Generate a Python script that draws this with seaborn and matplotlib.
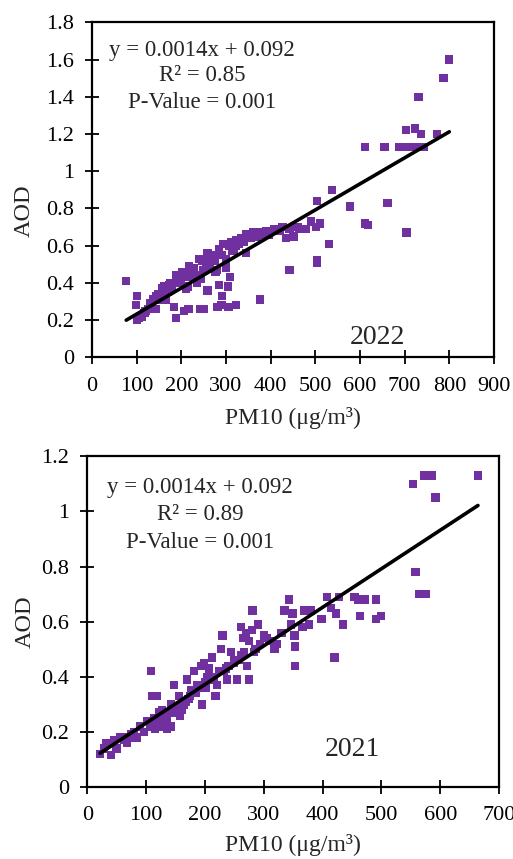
import matplotlib
matplotlib.use("Agg")
import matplotlib.pyplot as plt
import seaborn as sns
import pandas as pd
import numpy as np
from matplotlib.ticker import FuncFormatter

# ---------------- data 2022 ----------------
pm10_2022 = [77, 101, 99, 101, 189, 184, 206, 216, 242, 251, 259, 285, 304, 292, 281, 290, 306, 322,
             309, 376, 442, 504, 504, 531, 577, 504, 538, 662, 612, 618, 704, 612, 655, 688, 700, 712,
             726, 742, 703, 723, 736, 773, 731, 787, 800,
             345, 360, 382, 408, 427, 442, 435, 451, 465, 480, 491, 502, 510, 345, 322, 308, 293, 270,
             259, 240, 218, 203, 188, 173, 158, 143, 131, 120, 113, 143, 165, 210, 240, 277, 300, 263,
             300, 322, 105, 110, 118, 125, 135, 150, 160, 170, 180, 195, 200, 215, 225, 230, 250, 255,
             265, 275, 290, 315, 330, 355, 370, 395, 420, 460, 215, 235, 245, 280, 300,
             335, 340, 352, 365, 375, 390, 312, 318, 285, 268, 248, 228, 208, 190, 176, 162, 148, 137]
aod_2022 = [0.41, 0.33, 0.28, 0.20, 0.21, 0.27, 0.25, 0.26, 0.26, 0.26, 0.36, 0.39, 0.38, 0.33, 0.27, 0.28, 0.27, 0.28,
            0.43, 0.31, 0.47, 0.52, 0.51, 0.61, 0.81, 0.84, 0.90, 0.83, 0.72, 0.71, 0.67, 1.13, 1.13, 1.13, 1.13, 1.13,
            1.13, 1.13, 1.22, 1.23, 1.20, 1.20, 1.40, 1.50, 1.60,
            0.66, 0.67, 0.67, 0.69, 0.70, 0.69, 0.64, 0.65, 0.69, 0.69, 0.73, 0.70, 0.72, 0.56, 0.63, 0.60, 0.61, 0.55,
            0.56, 0.53, 0.49, 0.46, 0.44, 0.39, 0.37, 0.33, 0.29, 0.25, 0.22, 0.26, 0.31, 0.37, 0.44, 0.46, 0.48, 0.49,
            0.53, 0.60, 0.21, 0.22, 0.24, 0.26, 0.28, 0.31, 0.33, 0.35, 0.37, 0.40, 0.41, 0.43, 0.45, 0.44, 0.47, 0.48,
            0.50, 0.52, 0.55, 0.57, 0.61, 0.64, 0.65, 0.66, 0.68, 0.70, 0.38, 0.40, 0.42, 0.47, 0.50,
            0.64, 0.62, 0.66, 0.67, 0.66, 0.68, 0.62, 0.58, 0.58, 0.54, 0.52, 0.48, 0.45, 0.42, 0.40, 0.38, 0.34, 0.31]

# ---------------- data 2021 ----------------
pm10_2021 = [664, 573, 585, 554, 592, 558, 564, 575, 491, 471, 460, 454, 499, 491, 463, 435, 420, 408, 428,
             414, 423, 398, 380, 369, 377, 366, 343, 335, 349, 346, 352, 353, 353, 281, 261, 270, 280, 290,
             300, 265, 275, 318, 323, 230, 283, 275, 255, 238, 108,
             22, 33, 40, 50, 45, 62, 70, 79, 85, 90, 96, 102, 107, 110, 119, 113, 122, 124, 133, 142, 147, 147,
             156, 158, 164, 170, 176, 181, 187, 195, 198, 204, 212, 218, 221, 227, 232, 244, 249, 266, 272,
             193, 201, 184, 207, 142, 127, 119, 68, 56, 28, 75, 130, 152, 168, 190, 210, 236, 258, 286, 310, 330,
             115, 125, 135, 145, 155, 165, 175, 185, 200, 215, 225, 240, 250, 262, 294, 305, 160, 172, 136]
aod_2021 = [1.13, 1.13, 1.13, 1.10, 1.05, 0.78, 0.70, 0.70, 0.68, 0.68, 0.68, 0.69, 0.62, 0.61, 0.62, 0.59, 0.47, 0.69, 0.69,
            0.65, 0.63, 0.61, 0.64, 0.64, 0.59, 0.58, 0.68, 0.64, 0.63, 0.59, 0.55, 0.51, 0.44, 0.64, 0.58, 0.56, 0.57, 0.59,
            0.55, 0.54, 0.53, 0.50, 0.52, 0.55, 0.49, 0.39, 0.39, 0.39, 0.42,
            0.12, 0.16, 0.115, 0.14, 0.17, 0.17, 0.18, 0.20, 0.18, 0.22, 0.20, 0.24, 0.22, 0.33, 0.33, 0.25, 0.27, 0.22, 0.24, 0.22, 0.28, 0.37,
            0.33, 0.26, 0.30, 0.39, 0.35, 0.42, 0.37, 0.30, 0.45, 0.40, 0.47, 0.33, 0.37, 0.50, 0.42, 0.49, 0.45, 0.49, 0.44,
            0.44, 0.36, 0.34, 0.43, 0.30, 0.28, 0.24, 0.16, 0.18, 0.14, 0.19, 0.26, 0.29, 0.31, 0.36, 0.39, 0.43, 0.46, 0.50, 0.53, 0.56,
            0.21, 0.23, 0.25, 0.27, 0.29, 0.31, 0.33, 0.35, 0.38, 0.40, 0.42, 0.44, 0.46, 0.48, 0.52, 0.54, 0.28, 0.32, 0.21]

slope, intercept = 0.0014, 0.092
eq_text = "y = 0.0014x + 0.092"
r2_2022, r2_2021 = "R² = 0.85", "R² = 0.89"
p_text = "P-Value = 0.001"

sns.set_style("ticks")
plt.rcParams['font.family'] = ['Liberation Serif', 'DejaVu Serif']

purple = "#7030A0"
fig = plt.figure(figsize=(5.13, 8.59), dpi=100)
ax1 = fig.add_axes([0.179, 0.584, 0.784, 0.390])
ax2 = fig.add_axes([0.170, 0.0838, 0.803, 0.385])

fmt = FuncFormatter(lambda v, p: f"{v:g}")


def panel(ax, xs, ys, xmax, ymax, ystep, r2, year, eqpos, yearpos, ylab_xy, xlab_y):
    df = pd.DataFrame({"PM10": xs, "AOD": ys})
    sns.scatterplot(data=df, x="PM10", y="AOD", ax=ax, marker="s", s=36,
                    color=purple, edgecolor="none", linewidth=0, zorder=2)
    xl = np.array([min(xs), max(xs)])
    ax.plot(xl, slope * xl + intercept, color="black", lw=2.6, zorder=3)
    ax.set_xlim(0, xmax)
    ax.set_ylim(0, ymax)
    ax.set_xticks(np.arange(0, xmax + 1, 100))
    ax.set_yticks(np.arange(0, ymax + 1e-9, ystep))
    ax.yaxis.set_major_formatter(fmt)
    ax.tick_params(direction="inout", length=10, width=1.3, labelsize=16, colors="black")
    ax.tick_params(axis="x", pad=9)
    ax.tick_params(axis="y", pad=8)
    for s in ax.spines.values():
        s.set_linewidth(1.6)
        s.set_color("black")
    ax.set_xlabel("PM10 (μg/m³)", fontsize=17)
    ax.set_ylabel("AOD", fontsize=17.5)
    ax.yaxis.set_label_coords(*ylab_xy)
    ax.xaxis.set_label_coords(0.5, xlab_y)
    ex, ey = eqpos
    ax.text(ex, ey[0], eq_text, transform=ax.transAxes, ha="center", va="center", fontsize=16.5)
    ax.text(ex, ey[1], r2, transform=ax.transAxes, ha="center", va="center", fontsize=16.5)
    ax.text(ex, ey[2], p_text, transform=ax.transAxes, ha="center", va="center", fontsize=16.5)
    ax.text(yearpos[0], yearpos[1], year, transform=ax.transAxes, ha="center", va="center", fontsize=20)


panel(ax1, pm10_2022, aod_2022, 900, 1.8, 0.2, r2_2022, "2022",
      (0.274, (0.916, 0.842, 0.761)), (0.709, 0.06), (-0.142, 0.439), -0.149)
panel(ax2, pm10_2021, aod_2021, 700, 1.2, 0.2, r2_2021, "2021",
      (0.274, (0.906, 0.825, 0.740)), (0.643, 0.112), (-0.126, 0.5), -0.143)

fig.savefig("out.png", dpi=100)
